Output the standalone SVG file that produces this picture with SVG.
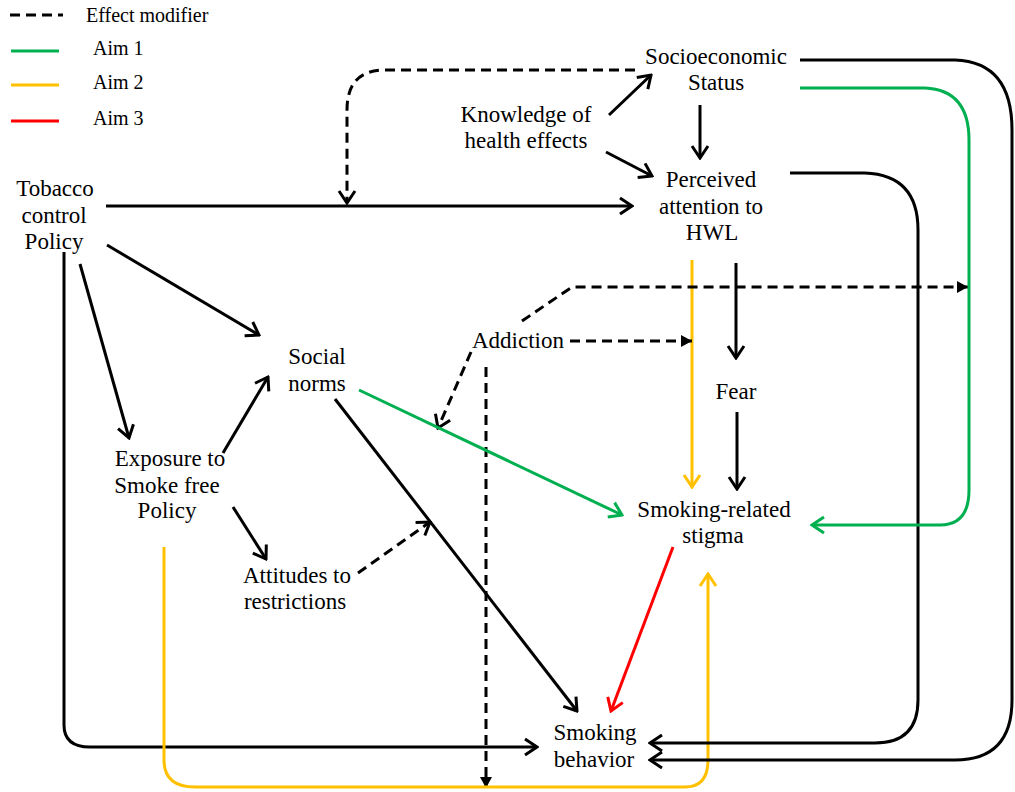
<svg xmlns="http://www.w3.org/2000/svg" width="1015" height="792" viewBox="0 0 1015 792">
<style>
.k{fill:none;stroke:#000;stroke-width:3}
.d{fill:none;stroke:#000;stroke-width:3;stroke-dasharray:10 6}
.g{fill:none;stroke:#00B050;stroke-width:3}
.y{fill:none;stroke:#FFC000;stroke-width:3}
.r{fill:none;stroke:#FF0000;stroke-width:3}
</style>
<defs>
<marker id="ak" markerUnits="userSpaceOnUse" viewBox="-16 -10 18 20" refX="0" refY="0" markerWidth="18" markerHeight="20" orient="auto"><path d="M-12,-8 L0,0 L-12,8" fill="none" stroke="#000" stroke-width="3"/></marker>
<marker id="ag" markerUnits="userSpaceOnUse" viewBox="-16 -10 18 20" refX="0" refY="0" markerWidth="18" markerHeight="20" orient="auto"><path d="M-12,-8 L0,0 L-12,8" fill="none" stroke="#00B050" stroke-width="3"/></marker>
<marker id="ay" markerUnits="userSpaceOnUse" viewBox="-16 -10 18 20" refX="0" refY="0" markerWidth="18" markerHeight="20" orient="auto"><path d="M-12,-8 L0,0 L-12,8" fill="none" stroke="#FFC000" stroke-width="3"/></marker>
<marker id="ar" markerUnits="userSpaceOnUse" viewBox="-16 -10 18 20" refX="0" refY="0" markerWidth="18" markerHeight="20" orient="auto"><path d="M-12,-8 L0,0 L-12,8" fill="none" stroke="#FF0000" stroke-width="3"/></marker>
<marker id="af" markerUnits="userSpaceOnUse" viewBox="-14 -8 16 16" refX="0" refY="0" markerWidth="16" markerHeight="16" orient="auto"><path d="M-11,-6 L0,0 L-11,6 Z" fill="#000"/></marker>
</defs>
<rect width="1015" height="792" fill="#fff"/>
<g id="legend" font-family="Liberation Serif, serif" font-size="20" fill="#000">
<line x1="10" y1="15" x2="63" y2="15" class="d" stroke-width="4" stroke-dasharray="12 5"/>
<text x="86" y="22">Effect modifier</text>
<line x1="11" y1="51" x2="59" y2="51" class="g" stroke-width="4"/>
<text x="93" y="55">Aim 1</text>
<line x1="11" y1="85" x2="59" y2="85" class="y" stroke-width="4"/>
<text x="93" y="89">Aim 2</text>
<line x1="11" y1="121" x2="59" y2="121" class="r" stroke-width="4"/>
<text x="93" y="125">Aim 3</text>
</g>
<g id="connectors">
<path class="k" d="M106,206 H632" marker-end="url(#ak)"/>
<path class="d" d="M635,70 H385 Q347,70 347,110 V203" marker-end="url(#ak)"/>
<path class="k" d="M609,115 L651,75" marker-end="url(#ak)"/>
<path class="k" d="M606,152 L652,176" marker-end="url(#ak)"/>
<path class="k" d="M700,105 V158" marker-end="url(#ak)"/>
<path class="k" d="M736,263 V358" marker-end="url(#ak)"/>
<path class="k" d="M737,412 V489" marker-end="url(#ak)"/>
<path class="y" d="M692,260 V487" marker-end="url(#ay)"/>
<path class="d" d="M570,341 H692" marker-end="url(#af)"/>
<path class="d" d="M522,321 L572,287 H968" marker-end="url(#af)"/>
<path class="d" d="M471,352 L438,428" marker-end="url(#ak)"/>
<path class="d" d="M486,367 V788" marker-end="url(#af)"/>
<path class="g" d="M359,390 L622,515" marker-end="url(#ag)"/>
<path class="k" d="M335,399 L577,711" marker-end="url(#ak)"/>
<path class="d" d="M358,573 L430,522" marker-end="url(#ak)"/>
<path class="k" d="M223,453 L268,377" marker-end="url(#ak)"/>
<path class="k" d="M233,507 L266,559" marker-end="url(#ak)"/>
<path class="k" d="M80,264 L129,438" marker-end="url(#ak)"/>
<path class="k" d="M107,245 L259,335" marker-end="url(#ak)"/>
<path class="k" d="M64,252 V725 Q64,747 90,747 H537" marker-end="url(#ak)"/>
<path class="y" d="M164,547 V760 Q164,787 195,787 H685 Q708,787 708,760 V574" marker-end="url(#ay)"/>
<path class="r" d="M673,547 L611,711" marker-end="url(#ar)"/>
<path class="k" d="M790,173 H865 Q918,175 918,230 V700 Q918,743 875,743 H650" marker-end="url(#ak)"/>
<path class="k" d="M800,60 H955 Q1012,62 1012,130 V700 Q1012,760 955,760 H650" marker-end="url(#ak)"/>
<path class="g" d="M800,88 H925 Q969,90 969,140 V490 Q969,525 940,525 H812" marker-end="url(#ag)"/>
</g>
<g font-family="Liberation Serif, serif" font-size="23" text-anchor="middle" fill="#000">
<g id="ses"><text x="716" y="64">Socioeconomic</text><text x="716" y="90">Status</text></g>
<g id="knowledge"><text x="526" y="122">Knowledge of</text><text x="526" y="148">health effects</text></g>
<g id="perceived"><text x="711" y="187">Perceived</text><text x="711" y="214">attention to</text><text x="712" y="240">HWL</text></g>
<g id="tobacco"><text x="55" y="196">Tobacco</text><text x="54" y="223">control</text><text x="54" y="249">Policy</text></g>
<g id="social"><text x="317" y="364">Social</text><text x="317" y="391">norms</text></g>
<g id="addiction"><text x="518" y="348">Addiction</text></g>
<g id="fear"><text x="736" y="399">Fear</text></g>
<g id="exposure"><text x="170" y="466">Exposure to</text><text x="167" y="493">Smoke free</text><text x="167" y="518">Policy</text></g>
<g id="stigma"><text x="714" y="517">Smoking-related</text><text x="713" y="543">stigma</text></g>
<g id="attitudes"><text x="297" y="583">Attitudes to</text><text x="295" y="609">restrictions</text></g>
<g id="smoking"><text x="595" y="740">Smoking</text><text x="594" y="767">behavior</text></g>
</g>
</svg>
